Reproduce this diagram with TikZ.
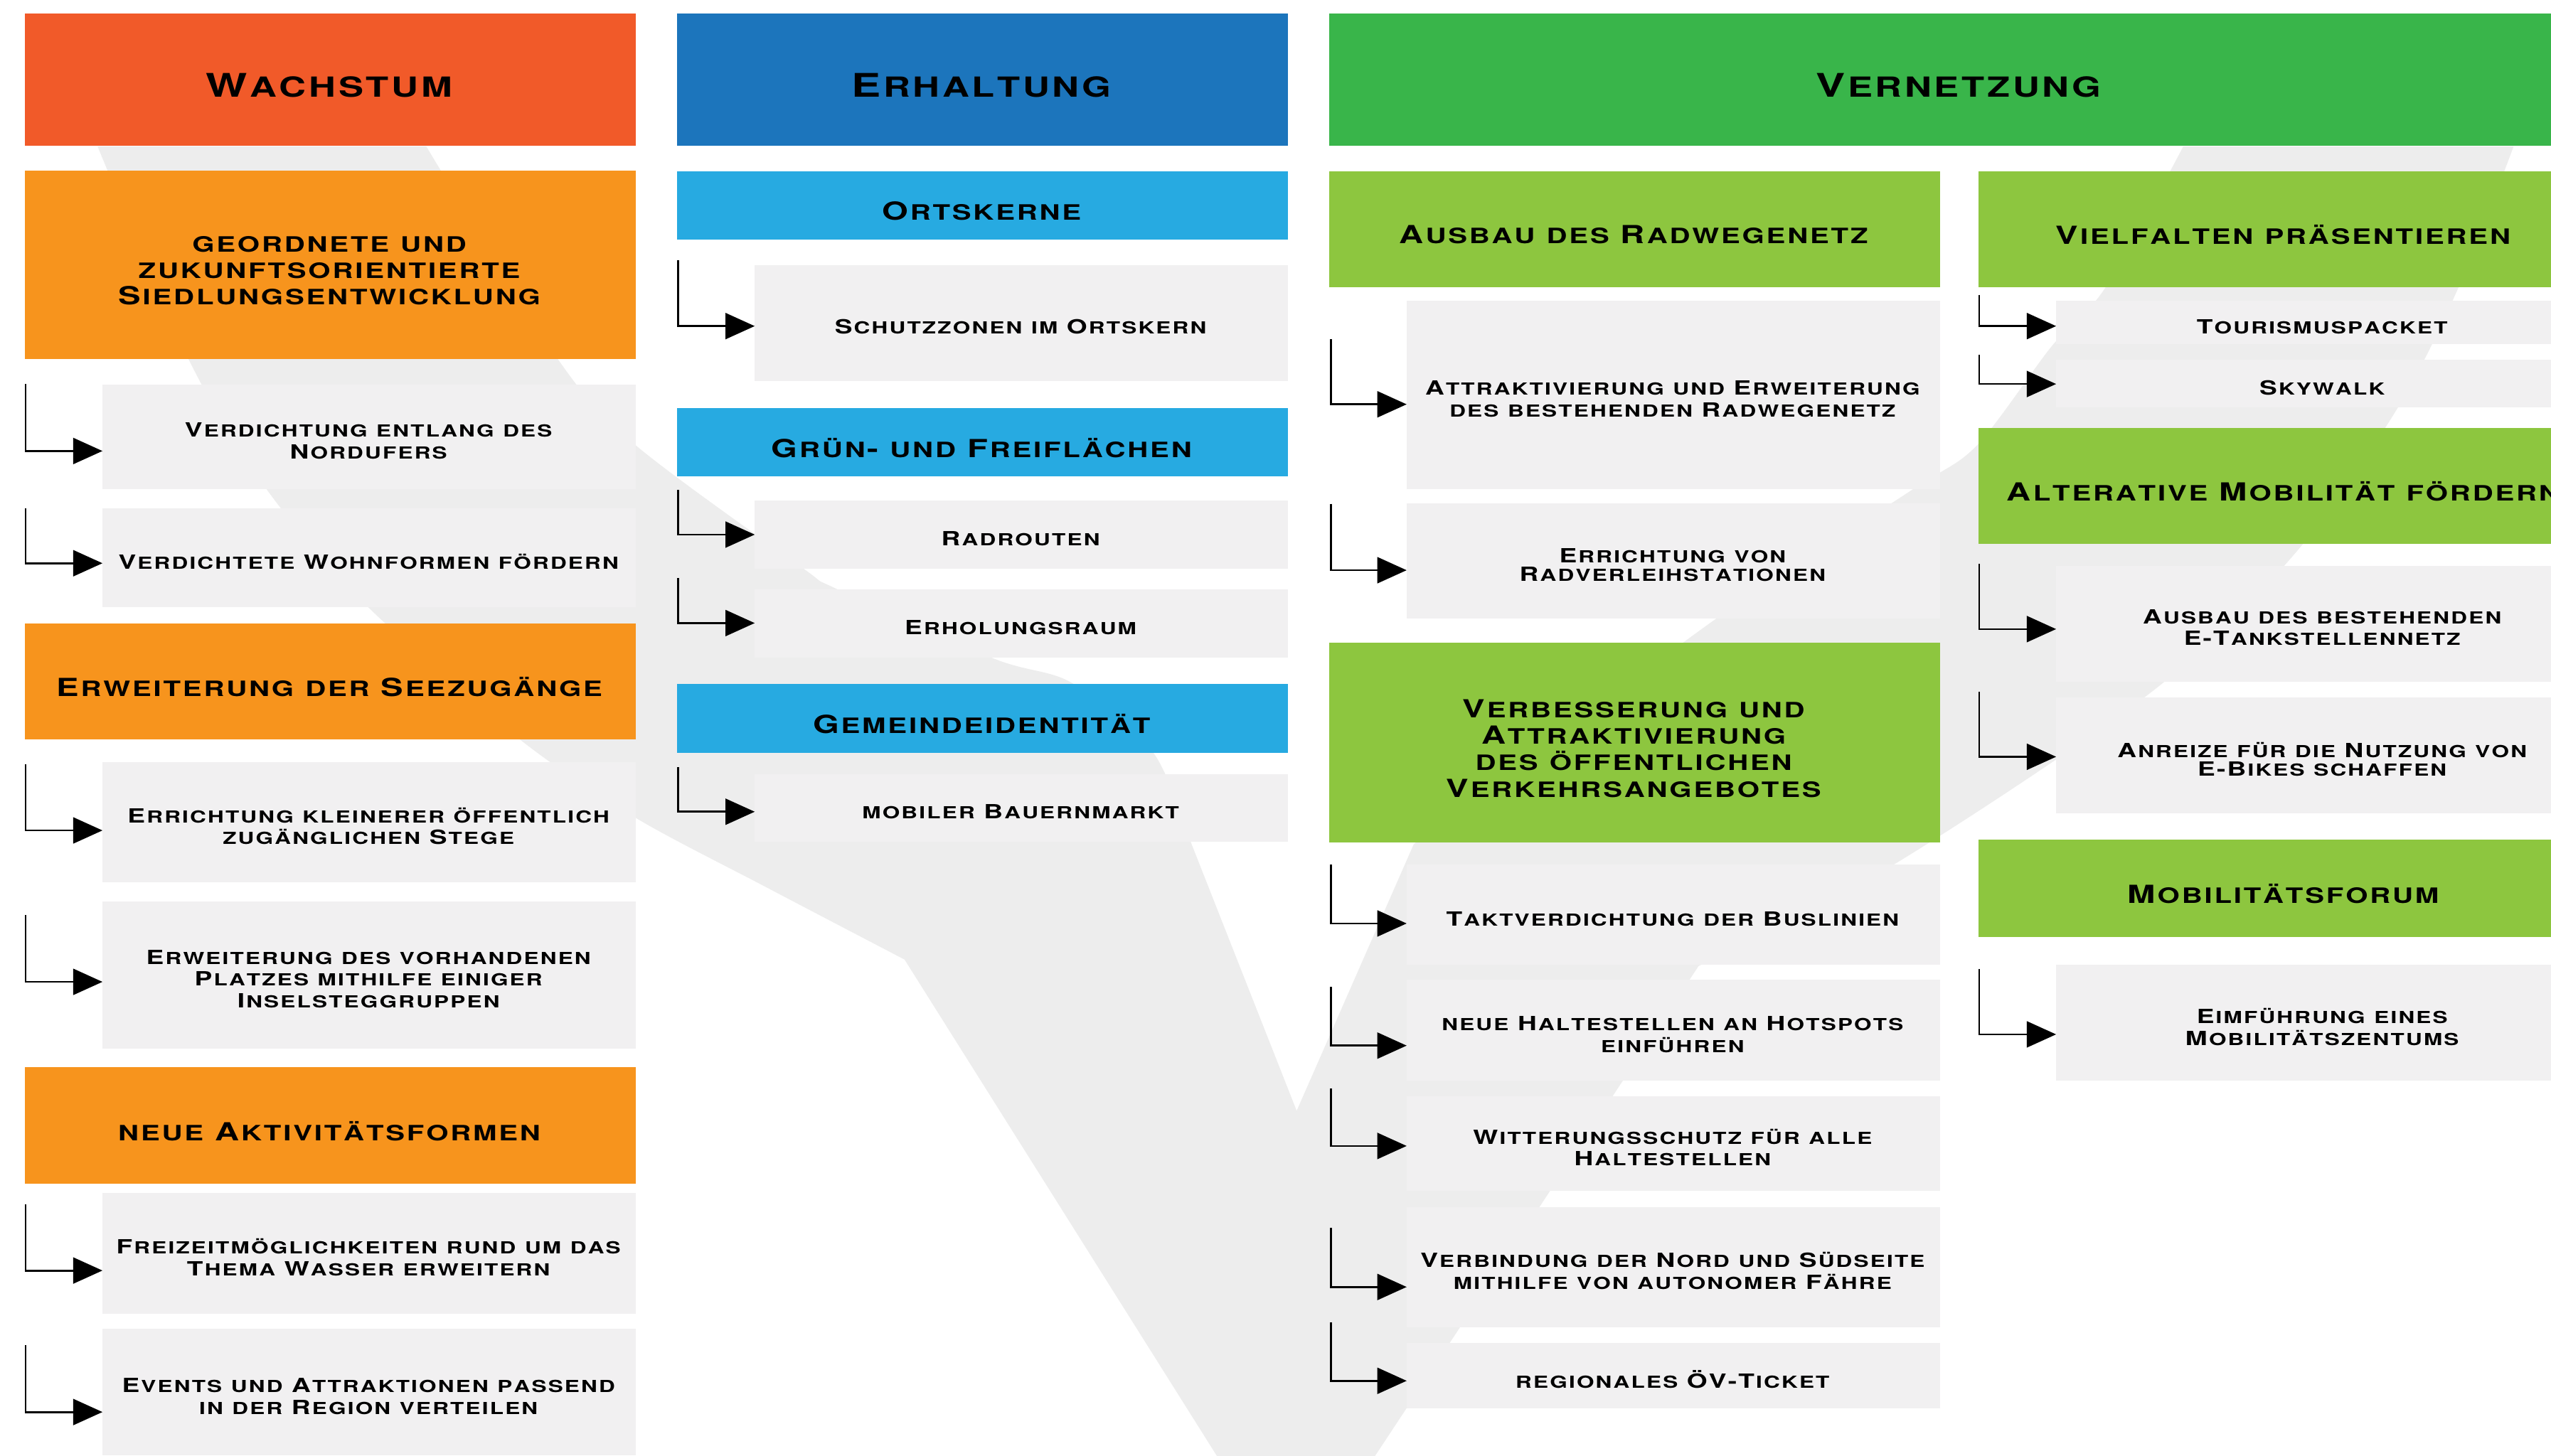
\documentclass[tikz,border=0pt]{standalone}
\usepackage{fontspec}
\setmainfont{TeX Gyre Heros}[FakeStretch=1.35]
\usetikzlibrary{arrows.meta}

\definecolor{cWach}{HTML}{F15A29}
\definecolor{cOrange}{HTML}{F7941D}
\definecolor{cErh}{HTML}{1C75BC}
\definecolor{cBlue}{HTML}{27AAE1}
\definecolor{cVer}{HTML}{39B54A}
\definecolor{cGreen}{HTML}{8DC63F}
\definecolor{cItem}{HTML}{F1F0F1}
\definecolor{cVgray}{HTML}{EDEDED}

\makeatletter
\newcommand\scsmall{\fontsize{\strip@pt\dimexpr0.85\dimexpr\f@size pt\relax\relax}{\f@baselineskip}\selectfont}
\makeatother
\newcommand\sckern{0.08em}
\newcommand\scspace{0.38em}

\ExplSyntaxOn
\cs_new_protected:Npn \SC #1
  {
    \str_map_inline:nn {#1}
      {
        \str_if_eq:nnTF {##1} {~}
          { \skip_horizontal:n { \scspace } }
          {
            \int_compare:nNnTF { \char_value_uccode:n {`##1} } = { 0 }
              { ##1 }
              {
                \int_compare:nNnTF { \char_value_uccode:n {`##1} } = { `##1 }
                  { ##1 }
                  { { \scsmall \char \char_value_uccode:n {`##1} \scan_stop: } }
              }
            \kern \sckern \scan_stop:
          }
      }
  }
\ExplSyntaxOff

\tikzset{
  box/.style={anchor=north west, inner sep=0pt, outer sep=0pt, draw=none},
  htxt/.style={font=\fontsize{20}{24}\selectfont\bfseries, align=center, inner sep=0pt, yshift=-3.5pt, text=black},
  stxt/.style={font=\fontsize{15.3}{16.3}\selectfont\bfseries, align=center, inner sep=0pt, yshift=-3.5pt, text=black},
  itxt/.style={font=\fontsize{12}{13.5}\selectfont\bfseries, align=center, inner sep=0pt, yshift=-2.4pt, text=black},
  itxtt/.style={itxt, font=\fontsize{12}{11.5}\selectfont\bfseries},
  conn/.style={line width=1.2pt, black, -{Triangle[length=18pt, width=16pt]}},
}

% style, name, x, y, w, h, text style, text
\newcommand\mkbox[8]{%
  \node[box, #1, minimum width=#5pt, minimum height=#6pt,
        label={[#7]center:{#8}}] (#2) at (#3,#4) {};}
% node, x, ytop, offset of arrow below node top
\newcommand\mkarr[4]{%
  \coordinate (#1s) at (#2,#3);
  \draw[conn] (#1s) |- ([yshift=-#4pt]#1.north west);}

\begin{document}
\begin{tikzpicture}[x=1pt, y=-1pt]
\useasboundingbox (0,0) rectangle (1568,895);
\fill[white] (0,0) rectangle (1568,895);
\clip (0,0) rectangle (1568,895);

% background Y shape
\fill[cVgray]
  plot[smooth, tension=0.5] coordinates {(60,90) (116,221) (164,301) (226,373) (320,455) (391,503) (470,545) (556,590)}
  -- (751,900) -- (842,900)
  -- plot[smooth, tension=0.5] coordinates {(1044,594) (1165,531) (1323,425) (1410,341) (1473,252) (1511,177) (1545,90)}
  -- plot[smooth, tension=0.5] coordinates {(1342,90) (1294,177) (1261,213) (1215,274) (1174,302) (1054,381) (869,519)}
  -- (797,683)
  -- plot[smooth, tension=0.5] coordinates {(732,518) (709,463) (659,420) (611,405) (514,362) (493,349) (391,274) (343,221) (262,90)}
  -- cycle;

% headers
\mkbox{fill=cWach}{H1}{15.3}{8.3}{375.5}{81.3}{htxt}{\SC{Wachstum}}
\mkbox{fill=cErh}{H2}{416.2}{8.3}{375.5}{81.3}{htxt}{\SC{Erhaltung}}
\mkbox{fill=cVer}{H3}{817}{8.3}{775}{81.3}{htxt}{\SC{Vernetzung}}

% column 1
\mkbox{fill=cOrange}{S1}{15.3}{104.9}{375.5}{115.9}{stxt}{\SC{geordnete und}\\\SC{zukunftsorientierte}\\\SC{Siedlungsentwicklung}}
\mkbox{fill=cItem}{I1}{63}{236.4}{328}{64.2}{itxt}{\SC{Verdichtung entlang des}\\\SC{Nordufers}}
\mkbox{fill=cItem}{I2}{63}{312.5}{328}{60.9}{itxt}{\SC{Verdichtete Wohnformen fördern}}
\mkbox{fill=cOrange}{S2}{15.3}{383.4}{375.5}{71.2}{stxt}{\SC{Erweiterung der Seezugänge}}
\mkbox{fill=cItem}{I3}{63}{468.6}{328}{73.9}{itxt}{\SC{Errichtung kleinerer öffentlich}\\\SC{zugänglichen Stege}}
\mkbox{fill=cItem}{I4}{63}{554.3}{328}{90.5}{itxt}{\SC{Erweiterung des vorhandenen}\\\SC{Platzes mithilfe einiger}\\\SC{Inselsteggruppen}}
\mkbox{fill=cOrange}{S3}{15.3}{656.2}{375.5}{71.6}{stxt}{\SC{neue Aktivitätsformen}}
\mkbox{fill=cItem}{I5}{63}{733.6}{328}{74.2}{itxt}{\SC{Freizeitmöglichkeiten rund um das}\\\SC{Thema Wasser erweitern}}
\mkbox{fill=cItem}{I6}{63}{817}{328}{78}{itxt}{\SC{Events und Attraktionen passend}\\\SC{in der Region verteilen}}

\mkarr{I1}{15.7}{236}{40.9}
\mkarr{I2}{15.7}{312.5}{33.8}
\mkarr{I3}{15.7}{470}{42}
\mkarr{I4}{15.7}{562.6}{49.4}
\mkarr{I5}{15.7}{740.5}{47.6}
\mkarr{I6}{15.7}{827}{51.2}

% column 2
\mkbox{fill=cBlue}{B1}{416.2}{105.2}{375.5}{42.3}{stxt}{\SC{Ortskerne}}
\mkbox{fill=cItem}{E1}{463.9}{162.9}{327.8}{71.4}{itxt}{\SC{Schutzzonen im Ortskern}}
\mkbox{fill=cBlue}{B2}{416.2}{250.7}{375.5}{42.1}{stxt}{\SC{Grün- und Freiflächen}}
\mkbox{fill=cItem}{E2}{463.9}{307.9}{327.8}{41.8}{itxt}{\SC{Radrouten}}
\mkbox{fill=cItem}{E3}{463.9}{362.5}{327.8}{41.8}{itxt}{\SC{Erholungsraum}}
\mkbox{fill=cBlue}{B3}{416.2}{420.5}{375.5}{42.4}{stxt}{\SC{Gemeindeidentität}}
\mkbox{fill=cItem}{E4}{463.9}{476}{327.8}{41.6}{itxt}{\SC{mobiler Bauernmarkt}}

\mkarr{E1}{416.8}{160}{37.6}
\mkarr{E2}{416.8}{301.2}{20.8}
\mkarr{E3}{416.8}{355.5}{20.6}
\mkarr{E4}{416.8}{471.7}{23.1}

% column 3a
\mkbox{fill=cGreen}{G1}{817}{105.2}{375.5}{71.2}{stxt}{\SC{Ausbau des Radwegenetz}}
\mkbox{fill=cItem}{V1}{864.6}{185.1}{327.9}{115.5}{itxt}{\SC{Attraktivierung und Erweiterung}\\\SC{des bestehenden Radwegenetz}}
\mkbox{fill=cItem}{V2}{864.6}{309.3}{327.9}{71.2}{itxtt}{\SC{Errichtung von}\\\SC{Radverleihstationen}}
\mkbox{fill=cGreen}{G2}{817}{395}{375.5}{123.2}{stxt}{\SC{Verbesserung und}\\\SC{Attraktivierung}\\\SC{des öffentlichen}\\\SC{Verkehrsangebotes}}
\mkbox{fill=cItem}{V3}{864.6}{531.7}{327.9}{61.6}{itxt}{\SC{Taktverdichtung der Buslinien}}
\mkbox{fill=cItem}{V4}{864.6}{602.5}{327.9}{62.1}{itxt}{\SC{neue Haltestellen an Hotspots}\\\SC{einführen}}
\mkbox{fill=cItem}{V5}{864.6}{674.2}{327.9}{57.8}{itxt}{\SC{Witterungsschutz für alle}\\\SC{Haltestellen}}
\mkbox{fill=cItem}{V6}{864.6}{742.1}{327.9}{74.1}{itxt}{\SC{Verbindung der Nord und Südseite}\\\SC{mithilfe von autonomer Fähre}}
\mkbox{fill=cItem}{V7}{864.6}{825.8}{327.9}{40.1}{itxt}{\SC{regionales ÖV-Ticket}}

\mkarr{V1}{818}{208.6}{63.5}
\mkarr{V2}{818}{309.8}{41.3}
\mkarr{V3}{818}{531.7}{36.1}
\mkarr{V4}{818}{606.8}{40.4}
\mkarr{V5}{818}{669.3}{30.4}
\mkarr{V6}{818}{755}{49.2}
\mkarr{V7}{818}{812.9}{23.2}

% column 3b
\mkbox{fill=cGreen}{G3}{1216}{105.2}{376}{71.2}{stxt}{\SC{Vielfalten präsentieren}}
\mkbox{fill=cItem}{R1}{1263.8}{185.1}{328}{26.5}{itxt}{\SC{Tourismuspacket}}
\mkbox{fill=cItem}{R2}{1263.8}{221.2}{328}{29.3}{itxt}{\SC{Skywalk}}
\mkbox{fill=cGreen}{G4}{1216}{263.1}{376}{71.2}{stxt}{\SC{Alterative Mobilität fördern}}
\mkbox{fill=cItem}{R3}{1263.8}{347.8}{328}{71.2}{itxt}{\SC{Ausbau des bestehenden}\\\SC{E-Tankstellennetz}}
\mkbox{fill=cItem}{R4}{1263.8}{428.7}{328}{71.3}{itxtt}{\SC{Anreize für die Nutzung von}\\\SC{E-Bikes schaffen}}
\mkbox{fill=cGreen}{G5}{1216}{516.3}{376}{59.7}{stxt}{\SC{Mobilitätsforum}}
\mkbox{fill=cItem}{R5}{1263.8}{593.3}{328}{71.2}{itxt}{\SC{Eimführung eines}\\\SC{Mobilitätszentums}}

\mkarr{R1}{1216.5}{181.2}{15.4}
\mkarr{R2}{1216.5}{218.3}{14.9}
\mkarr{R3}{1216.5}{346.8}{39}
\mkarr{R4}{1216.5}{425.3}{36.6}
\mkarr{R5}{1216.5}{595.8}{42.7}
\end{tikzpicture}
\end{document}
